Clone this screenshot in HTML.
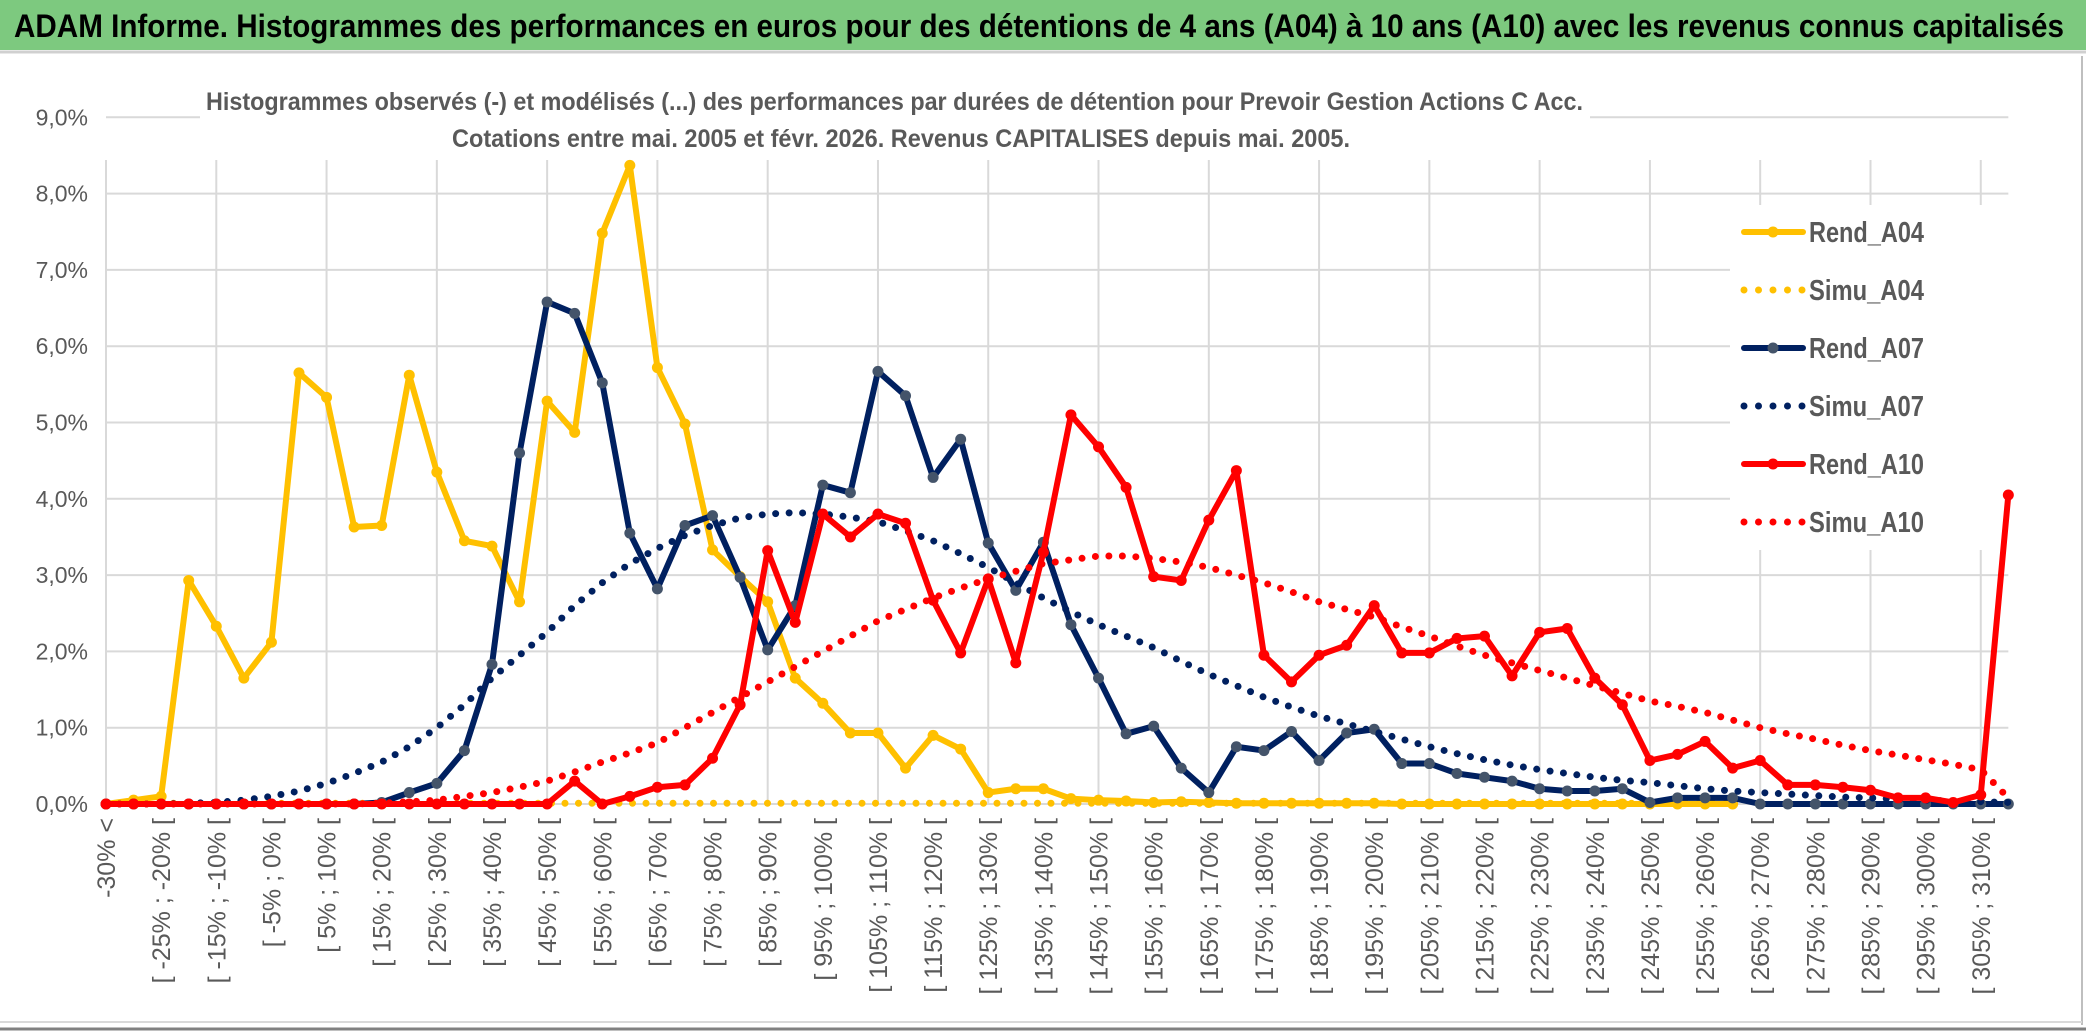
<!DOCTYPE html>
<html><head><meta charset="utf-8"><style>
html,body{margin:0;padding:0;background:#fff;}
svg{display:block;}
text{font-family:"Liberation Sans Narrow","Liberation Sans",sans-serif;}
</style></head><body>
<svg id="chart" width="2086" height="1031" viewBox="0 0 2086 1031" xmlns="http://www.w3.org/2000/svg">
<rect x="0" y="0" width="2086" height="1031" fill="#ffffff"/>
<rect x="0" y="0" width="2086" height="50" fill="#7DC97F"/>
<line x1="0" y1="52" x2="2086" y2="52" stroke="#d0d0d0" stroke-width="3"/>
<text x="14" y="37" font-size="32" font-weight="bold" fill="#000" textLength="2050" lengthAdjust="spacingAndGlyphs">ADAM Informe. Histogrammes des performances en euros pour des détentions de 4 ans (A04) à 10 ans (A10) avec les revenus connus capitalisés</text>
<line x1="2082" y1="56" x2="2082" y2="1025" stroke="#bfbfbf" stroke-width="2"/>
<line x1="0" y1="1022" x2="2082" y2="1022" stroke="#d9d9d9" stroke-width="2"/>
<line x1="0" y1="1029" x2="2086" y2="1029" stroke="#808080" stroke-width="3"/>
<g id="grid"></g>
<g id="ylabels"></g>
<g id="xlabels"></g>
<rect x="200" y="70" width="1390" height="90" fill="#fff"/>
<text x="206" y="110" font-size="25" font-weight="bold" fill="#595959" textLength="1377" lengthAdjust="spacingAndGlyphs">Histogrammes observés (-) et modélisés (...) des performances par durées de détention pour Prevoir Gestion Actions C Acc.</text>
<text x="452" y="147" font-size="25" font-weight="bold" fill="#595959" textLength="898" lengthAdjust="spacingAndGlyphs">Cotations entre mai. 2005 et févr. 2026. Revenus CAPITALISES depuis mai. 2005.</text>
<rect x="1730" y="205" width="280" height="345" fill="#fff"/>
<g id="series"></g>
<g id="legend"></g>
</svg>
<script>
const categories = ["-30% <","[ -30% ; -25% [","[ -25% ; -20% [","[ -20% ; -15% [","[ -15% ; -10% [","[ -10% ; -5% [","[ -5% ; 0% [","[ 0% ; 5% [","[ 5% ; 10% [","[ 10% ; 15% [","[ 15% ; 20% [","[ 20% ; 25% [","[ 25% ; 30% [","[ 30% ; 35% [","[ 35% ; 40% [","[ 40% ; 45% [","[ 45% ; 50% [","[ 50% ; 55% [","[ 55% ; 60% [","[ 60% ; 65% [","[ 65% ; 70% [","[ 70% ; 75% [","[ 75% ; 80% [","[ 80% ; 85% [","[ 85% ; 90% [","[ 90% ; 95% [","[ 95% ; 100% [","[ 100% ; 105% [","[ 105% ; 110% [","[ 110% ; 115% [","[ 115% ; 120% [","[ 120% ; 125% [","[ 125% ; 130% [","[ 130% ; 135% [","[ 135% ; 140% [","[ 140% ; 145% [","[ 145% ; 150% [","[ 150% ; 155% [","[ 155% ; 160% [","[ 160% ; 165% [","[ 165% ; 170% [","[ 170% ; 175% [","[ 175% ; 180% [","[ 180% ; 185% [","[ 185% ; 190% [","[ 190% ; 195% [","[ 195% ; 200% [","[ 200% ; 205% [","[ 205% ; 210% [","[ 210% ; 215% [","[ 215% ; 220% [","[ 220% ; 225% [","[ 225% ; 230% [","[ 230% ; 235% [","[ 235% ; 240% [","[ 240% ; 245% [","[ 245% ; 250% [","[ 250% ; 255% [","[ 255% ; 260% [","[ 260% ; 265% [","[ 265% ; 270% [","[ 270% ; 275% [","[ 275% ; 280% [","[ 280% ; 285% [","[ 285% ; 290% [","[ 290% ; 295% [","[ 295% ; 300% [","[ 300% ; 305% [","[ 305% ; 310% [","310% >="];
const yTicks = [0,1,2,3,4,5,6,7,8,9];
const yTickLabels = ["0,0%","1,0%","2,0%","3,0%","4,0%","5,0%","6,0%","7,0%","8,0%","9,0%"];
const rendA04 = [0,0.05,0.1,2.93,2.33,1.65,2.12,5.65,5.33,3.63,3.65,5.62,4.35,3.45,3.38,2.65,5.28,4.87,7.48,8.37,5.72,4.98,3.33,2.98,2.65,1.65,1.32,0.93,0.93,0.47,0.9,0.72,0.15,0.2,0.2,0.07,0.05,0.04,0.02,0.03,0.02,0.01,0.01,0.01,0.01,0.01,0.01,0,0,0,0,0,0,0,0,0,0,0,0,0];
const simuA04 = [0.01,0.01,0.01,0.01,0.01,0.01,0.01,0.01,0.01,0.01,0.01,0.01,0.01,0.01,0.01,0.01,0.01,0.01,0.01,0.01,0.01,0.01,0.01,0.01,0.01,0.01,0.01,0.01,0.01,0.01,0.01,0.01,0.01,0.01,0.01,0.01,0.01,0.01,0.01,0.01,0.01,0.01,0.01,0.01,0.01,0.01,0.01,0.01,0.01,0.01,0.01,0.01,0.01,0.01,0.01,0.01,0.01,0.01,0.01,0.01];
const rendA07 = [0,0,0,0,0,0,0,0,0,0,0.02,0.15,0.27,0.7,1.83,4.6,6.58,6.43,5.52,3.55,2.82,3.65,3.78,2.97,2.02,2.6,4.18,4.08,5.67,5.35,4.28,4.78,3.42,2.8,3.43,2.35,1.65,0.92,1.02,0.47,0.15,0.75,0.7,0.95,0.57,0.93,0.98,0.53,0.53,0.4,0.35,0.3,0.2,0.17,0.17,0.2,0.02,0.08,0.08,0.08,0,0,0,0,0,0,0,0,0,0];
const simuA07 = [0,0,0,0.01,0.02,0.05,0.1,0.17,0.27,0.4,0.55,0.75,1.0,1.3,1.65,1.95,2.25,2.6,2.9,3.15,3.35,3.52,3.65,3.75,3.8,3.82,3.8,3.76,3.7,3.58,3.45,3.28,3.1,2.9,2.7,2.52,2.35,2.2,2.05,1.87,1.7,1.55,1.4,1.27,1.15,1.05,0.95,0.85,0.75,0.66,0.58,0.51,0.45,0.4,0.35,0.31,0.28,0.24,0.2,0.17,0.15,0.13,0.11,0.09,0.08,0.06,0.05,0.04,0.03,0.02];
const rendA10 = [0,0,0,0,0,0,0,0,0,0,0,0,0,0,0,0,0,0.3,0,0.1,0.22,0.25,0.6,1.3,3.32,2.38,3.8,3.5,3.8,3.68,2.67,1.98,2.95,1.85,3.3,5.1,4.68,4.15,2.98,2.93,3.72,4.37,1.95,1.6,1.95,2.08,2.6,1.98,1.98,2.17,2.2,1.68,2.25,2.3,1.65,1.3,0.57,0.65,0.82,0.47,0.57,0.25,0.25,0.22,0.18,0.08,0.08,0.02,0.12,4.05];
const simuA10 = [0,0,0,0,0,0,0,0,0,0,0.01,0.03,0.05,0.1,0.15,0.22,0.3,0.42,0.55,0.67,0.8,1.0,1.2,1.4,1.6,1.8,2.0,2.2,2.4,2.55,2.7,2.83,2.95,3.05,3.15,3.2,3.25,3.25,3.22,3.17,3.1,3.0,2.9,2.78,2.65,2.55,2.45,2.32,2.2,2.07,1.95,1.85,1.75,1.65,1.55,1.45,1.35,1.28,1.2,1.1,1.0,0.92,0.85,0.77,0.7,0.64,0.58,0.52,0.45,0.08];

const NS = "http://www.w3.org/2000/svg";
const X0 = 106, DX = 27.57, Y0 = 804, DY = 76.3;
const xs = i => X0 + i * DX;
const ys = v => Y0 - v * DY;
function mk(tag, attrs, parent) {
  const e = document.createElementNS(NS, tag);
  for (const k in attrs) e.setAttribute(k, attrs[k]);
  parent.appendChild(e);
  return e;
}
const grid = document.getElementById('grid');
const xEnd = xs(categories.length - 1);
yTicks.forEach((t, i) => {
  const l = mk('line', {x1: xs(0), x2: xEnd, y1: ys(t), y2: ys(t), stroke: '#d9d9d9', 'stroke-width': 2}, grid);
  
  
  const tx = mk('text', {x: 88, y: ys(t) + 8, 'font-size': 23, fill: '#595959', 'text-anchor': 'end'}, document.getElementById('ylabels'));
  tx.textContent = yTickLabels[i];
  
  
});
for (let i = 0; i < categories.length; i += 4) {
  const l = mk('line', {x1: xs(i), x2: xs(i), y1: 160, y2: Y0, stroke: '#d9d9d9', 'stroke-width': 2}, grid);
  
  
}
const xl = document.getElementById('xlabels');
categories.forEach((c, i) => {
  if (i % 2 !== 0) return;
  const tx = mk('text', {x: 0, y: 0, 'font-size': 25, fill: '#595959', 'text-anchor': 'end',
    transform: `translate(${xs(i) + 9},${Y0 + 14}) rotate(-90)`}, xl);
  tx.style.fontFamily = '"Liberation Sans", sans-serif';
  tx.textContent = c;
  
  
});
const sg = document.getElementById('series');
function solid(data, color, mcolor, name) {
  const g = mk('g', {}, sg);
  
  
  const pts = data.map((v, i) => xs(i) + ',' + ys(v)).join(' ');
  mk('polyline', {points: pts, fill: 'none', stroke: color, 'stroke-width': 6, 'stroke-linejoin': 'round'}, g);
  data.forEach((v, i) => {
    const c = mk('circle', {cx: xs(i), cy: ys(v), r: 5.5, fill: mcolor}, g);
    
    
  });
}
function dotted(data, color, name) {
  const pts = data.map((v, i) => xs(i) + ',' + ys(v)).join(' ');
  const p = mk('polyline', {points: pts, fill: 'none', stroke: color, 'stroke-width': 7, 'stroke-linecap': 'round', 'stroke-dasharray': '0 13.5'}, sg);
  
  
}
solid(rendA04, '#FFC000', '#FFC000', 'rend-a04-line');
dotted(simuA04, '#FFC000', 'simu-a04-line');
solid(rendA07, '#002060', '#44546A', 'rend-a07-line');
dotted(simuA07, '#002060', 'simu-a07-line');
solid(rendA10, '#FF0000', '#FF0000', 'rend-a10-line');
dotted(simuA10, '#FF0000', 'simu-a10-line');

const legendNames = ["Rend_A04","Simu_A04","Rend_A07","Simu_A07","Rend_A10","Simu_A10"];
const legendColors = ["#FFC000","#FFC000","#002060","#002060","#FF0000","#FF0000"];
const lg = document.getElementById('legend');
legendNames.forEach((n, i) => {
  const y = 232 + i * 58;
  const g = mk('g', {}, lg);
  
  
  if (i % 2 === 0) {
    mk('line', {x1: 1744, x2: 1803, y1: y, y2: y, stroke: legendColors[i], 'stroke-width': 6, 'stroke-linecap': 'round'}, g);
    mk('circle', {cx: 1773, cy: y, r: 5.5, fill: i === 2 ? '#44546A' : legendColors[i]}, g);
  } else {
    mk('line', {x1: 1744, x2: 1803, y1: y, y2: y, stroke: legendColors[i], 'stroke-width': 7, 'stroke-linecap': 'round', 'stroke-dasharray': '0 14.5'}, g);
  }
  const t = mk('text', {x: 1809, y: y + 10, 'font-size': 29, 'font-weight': 'bold', fill: '#595959', textLength: 115, lengthAdjust: 'spacingAndGlyphs'}, g);
  t.textContent = n;
});
</script>
</body></html>
